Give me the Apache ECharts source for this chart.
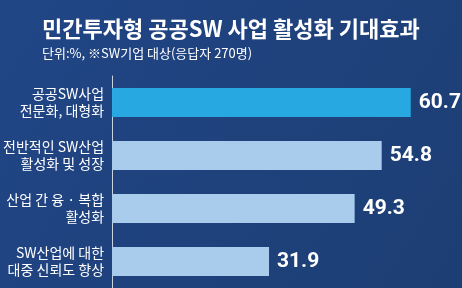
<!DOCTYPE html>
<html><head><meta charset="utf-8">
<script src="https://cdn.jsdelivr.net/npm/echarts@6/dist/echarts.min.js"></script>
<style>html,body{margin:0;padding:0;}#c{width:462px;height:288px;}</style>
</head><body><div id="c"></div>
<script>
const categories = ['공공SW사업\n전문화, 대형화', '전반적인 SW산업\n활성화 및 성장', '산업 간 융 · 복합\n활성화', 'SW산업에 대한\n대중 신뢰도 향상'];
const values = [60.7, 54.8, 49.3, 31.9];
const barColors = ['#27a8e0', '#a9cbec', '#a9cbec', '#a9cbec'];
const titleText = '민간투자형 공공SW 사업 활성화 기대효과';
const subText = '단위:%, ※SW기업 대상(응답자 270명)';

const chart = echarts.init(document.getElementById('c'), null, {renderer: 'canvas'});
chart.setOption({
  animation: false,
  backgroundColor: {
    type: 'linear', x: 0, y: 0, x2: 1, y2: 1,
    colorStops: [{offset: 0, color: '#214686'}, {offset: 1, color: '#1d3e74'}]
  },
  title: {
    text: titleText, subtext: subText, left: 37, top: 13, itemGap: 7,
    textStyle: {color: '#ffffff', fontSize: 22, fontWeight: 'bold', fontFamily: 'Noto Sans CJK KR'},
    subtextStyle: {color: '#ffffff', fontSize: 13, fontFamily: 'Noto Sans CJK KR'}
  },
  grid: {left: 110, right: 5.5, top: 76, bottom: 0, containLabel: false},
  xAxis: {type: 'value', min: 0, max: 70, show: false},
  yAxis: {
    type: 'category', data: categories, inverse: true,
    axisLine: {show: true, lineStyle: {color: '#c8d2e0', width: 1}},
    axisTick: {show: false},
    axisLabel: {color: '#ffffff', fontSize: 14, lineHeight: 17, margin: 8, align: 'right', fontFamily: 'Noto Sans CJK KR'}
  },
  series: [{
    type: 'bar', barWidth: 29,
    data: values.map((v, i) => ({value: v, itemStyle: {color: barColors[i]}})),
    label: {show: true, position: 'right', distance: 8, color: '#ffffff', fontSize: 21, fontWeight: 'bold', fontFamily: 'Roboto'}
  }]
});
</script></body></html>
